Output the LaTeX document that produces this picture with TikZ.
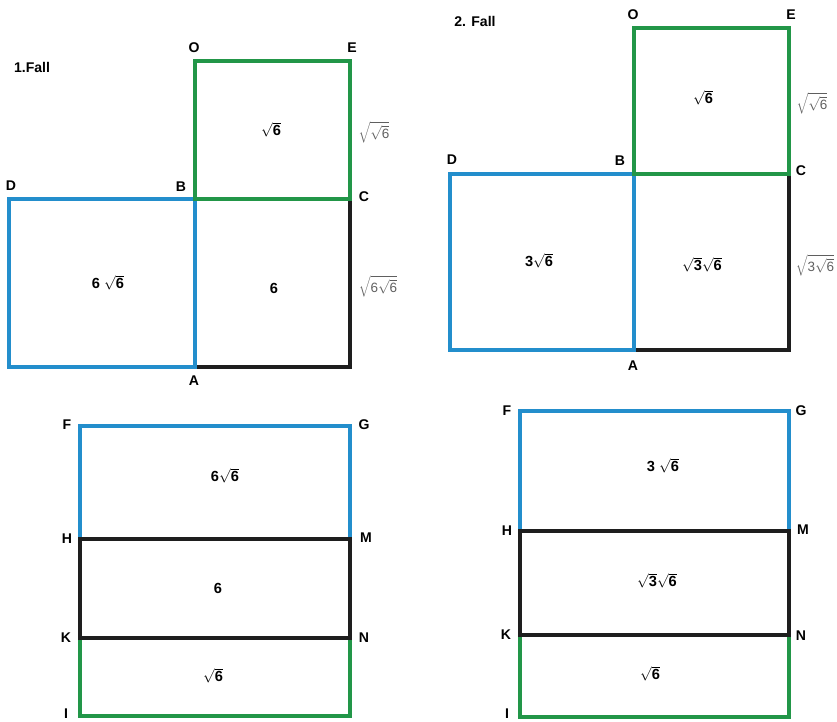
\documentclass[tikz,border=0pt]{standalone}
\usepackage{fontspec}
\setmainfont{Liberation Sans}
\usetikzlibrary{positioning}
\definecolor{sqblue}{RGB}{35,142,204}
\definecolor{sqgreen}{RGB}{34,150,72}
\definecolor{sqblack}{RGB}{30,30,30}
\definecolor{sidegray}{RGB}{95,95,95}
\newcommand{\rt}[1]{$\sqrt{\mbox{#1}}$}

\begin{document}
\begin{tikzpicture}[x=0.03cm,y=-0.03cm,
  blu/.style={draw=sqblue,line width=2.9pt},
  grn/.style={draw=sqgreen,line width=2.9pt},
  blk/.style={draw=sqblack,line width=2.9pt},
  pnt/.style={font=\bfseries\fontsize{12}{14}\selectfont,inner sep=0pt},
  area/.style={font=\bfseries\fontsize{12.5}{14}\selectfont,inner sep=0pt},
  side/.style={font=\fontsize{11.5}{13}\selectfont,text=sidegray,inner sep=0pt}]
\useasboundingbox (0,0) rectangle (837,721);

% 1. Fall
\coordinate (D1) at (9,199);
\coordinate (B1) at (195,199);
\coordinate (A1) at (195,367);
\coordinate (L1) at (9,367);
\coordinate (O1) at (195,61);
\coordinate (E1) at (350,61);
\coordinate (C1) at (350,199);
\coordinate (R1) at (350,367);
\draw[blk] (C1) -- (R1) -- (A1);
\draw[blu] (A1) -- (L1) -- (D1) -- (B1) -- cycle;
\draw[grn] (B1) -- (O1) -- (E1) -- (C1) -- cycle;

\node[pnt] (T1) at (32,67) {1.Fall};
\node[pnt] (nO1) at (194,48) {O};
\node[pnt] (nE1) at (352,48) {E};
\node[pnt] (nD1) at (11,186) {D};
\node[pnt] (nB1) at (181,187) {B};
\node[pnt] (nC1) at (364,197) {C};
\node[pnt] (nA1) at (194,381) {A};
\node[area] (a11) at (271,130) {\rt{6}};
\node[area] (a12) at (108,283) {6 \rt{6}};
\node[area] (a13) at (274,288) {6};
\node[side] (s11) at (374,132) {$\sqrt{\sqrt{\mbox{6}}}$};
\node[side] (s12) at (378,286) {$\sqrt{\mbox{6}\sqrt{\mbox{6}}}$};

% 2. Fall
\coordinate (D2) at (450,174);
\coordinate (B2) at (634,174);
\coordinate (A2) at (634,350);
\coordinate (L2) at (450,350);
\coordinate (O2) at (634,28);
\coordinate (E2) at (789,28);
\coordinate (C2) at (789,174);
\coordinate (R2) at (789,350);
\draw[blk] (C2) -- (R2) -- (A2);
\draw[blu] (A2) -- (L2) -- (D2) -- (B2) -- cycle;
\draw[grn] (B2) -- (O2) -- (E2) -- (C2) -- cycle;

\node[pnt] (T2) at (475,21) {2. Fall};
\node[pnt] (nO2) at (633,15) {O};
\node[pnt] (nE2) at (791,15) {E};
\node[pnt] (nD2) at (452,160) {D};
\node[pnt] (nB2) at (620,161) {B};
\node[pnt] (nC2) at (801,171) {C};
\node[pnt] (nA2) at (633,366) {A};
\node[area] (a21) at (703,98) {\rt{6}};
\node[area] (a22) at (539,261) {3\rt{6}};
\node[area] (a23) at (702,265) {\rt{3}\rt{6}};
\node[side] (s21) at (812,103) {$\sqrt{\sqrt{\mbox{6}}}$};
\node[side] (s22) at (815,265) {$\sqrt{\mbox{3}\sqrt{\mbox{6}}}$};

% unfolded strips
\coordinate (F3) at (80,426);
\coordinate (G3) at (350,426);
\coordinate (H3) at (80,539);
\coordinate (M3) at (350,539);
\coordinate (K3) at (80,638);
\coordinate (N3) at (350,638);
\coordinate (I3) at (80,716);
\coordinate (J3) at (350,716);
\draw[blu] (H3) -- (F3) -- (G3) -- (M3);
\draw[grn] (K3) -- (I3) -- (J3) -- (N3);
\draw[blk] (H3) -- (M3) -- (N3) -- (K3) -- cycle;

\node[pnt] (nF3) at (67,425) {F};
\node[pnt] (nG3) at (364,425) {G};
\node[pnt] (nH3) at (67,539) {H};
\node[pnt] (nM3) at (366,538) {M};
\node[pnt] (nK3) at (66,638) {K};
\node[pnt] (nN3) at (364,638) {N};
\node[pnt] (nI3) at (66,714) {I};
\node[area] (a31) at (225,476) {6\rt{6}};
\node[area] (a32) at (218,588) {6};
\node[area] (a33) at (213,676) {\rt{6}};

\coordinate (F4) at (520,411);
\coordinate (G4) at (789,411);
\coordinate (H4) at (520,531);
\coordinate (M4) at (789,531);
\coordinate (K4) at (520,635);
\coordinate (N4) at (789,635);
\coordinate (I4) at (520,717);
\coordinate (J4) at (789,717);
\draw[blu] (H4) -- (F4) -- (G4) -- (M4);
\draw[grn] (K4) -- (I4) -- (J4) -- (N4);
\draw[blk] (H4) -- (M4) -- (N4) -- (K4) -- cycle;

\node[pnt] (nF4) at (507,411) {F};
\node[pnt] (nG4) at (801,411) {G};
\node[pnt] (nH4) at (507,531) {H};
\node[pnt] (nM4) at (803,530) {M};
\node[pnt] (nK4) at (506,635) {K};
\node[pnt] (nN4) at (801,636) {N};
\node[pnt] (nI4) at (507,714) {I};
\node[area] (a41) at (663,466) {3 \rt{6}};
\node[area] (a42) at (657,581) {\rt{3}\rt{6}};
\node[area] (a43) at (650,674) {\rt{6}};
\end{tikzpicture}
\end{document}
